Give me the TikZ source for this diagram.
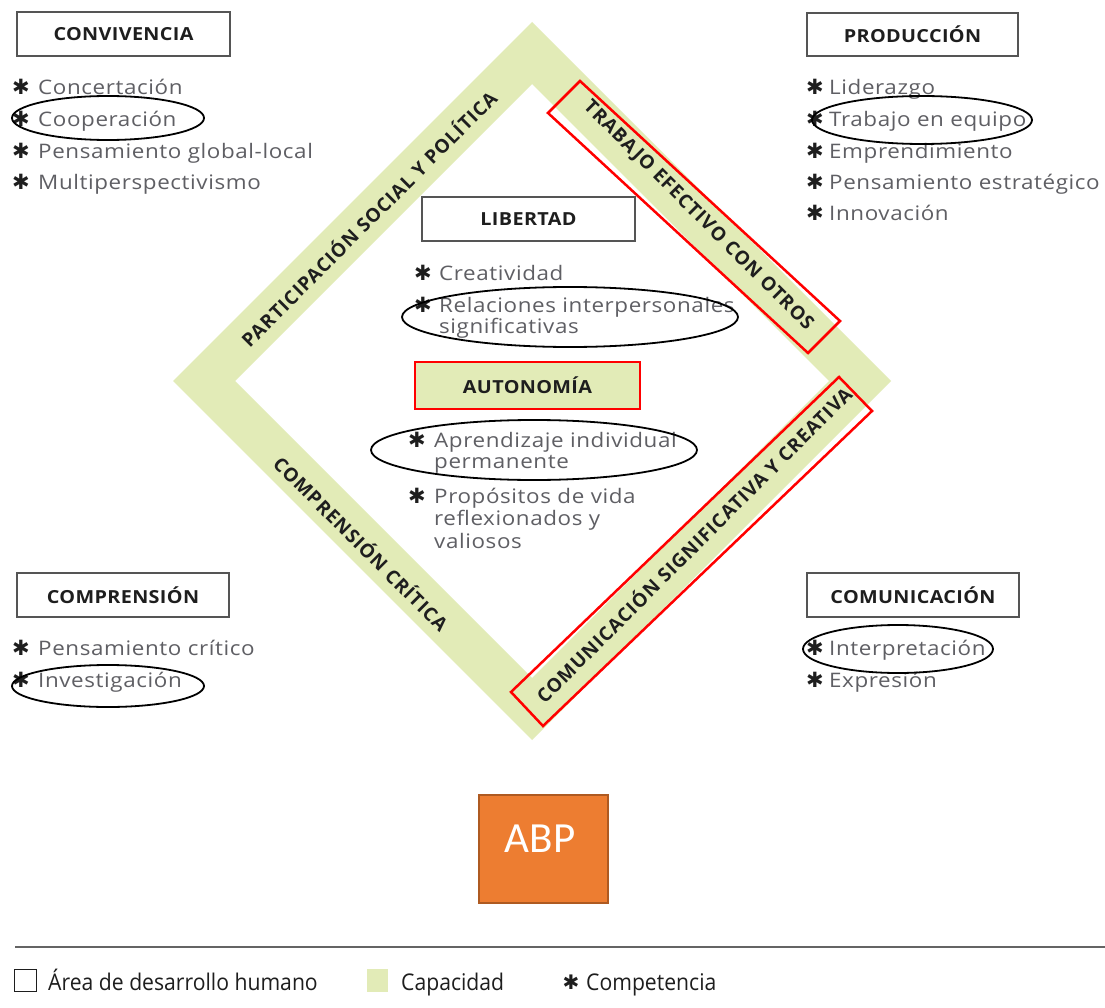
\documentclass[tikz,border=0pt]{standalone}
\usepackage{fontspec}
\setmainfont{Open Sans}
\newfontfamily\symf{DejaVu Sans}
\newfontfamily\abpf{Carlito}
\newfontfamily\bodyf[FakeStretch=1.12, LetterSpace=3]{Open Sans}
\newfontfamily\headf[FakeStretch=1.1, LetterSpace=2]{Open Sans}
\newfontfamily\legf[FakeStretch=0.92]{Open Sans}
\newfontfamily\bandf[LetterSpace=5]{Open Sans}
\usetikzlibrary{shapes.geometric}
\definecolor{band}{RGB}{226,235,183}
\definecolor{bodytxt}{RGB}{95,95,100}
\definecolor{headtxt}{RGB}{30,30,30}
\definecolor{boxline}{RGB}{85,85,85}
\definecolor{abpfill}{RGB}{237,125,49}
\definecolor{abpline}{RGB}{174,90,33}
\definecolor{rule}{RGB}{100,100,100}
\begin{document}
\begin{tikzpicture}[x=1pt,y=-1pt,
 areabox/.style={draw=boxline, line width=2pt, fill=white, inner sep=0pt, font=\headf\bfseries\fontsize{18}{18}\selectfont, text=headtxt},
 item/.style={anchor=base west, inner sep=0pt, font=\bodyf\fontsize{20}{20}\selectfont, text=bodytxt},
 star/.style={anchor=base, inner sep=0pt, font=\symf\fontsize{21}{21}\selectfont, text=headtxt},
 ring/.style={draw=black, line width=1.8pt},
 redframe/.style={draw=red, line width=2.5pt},
 bandtext/.style={font=\bandf\bfseries\fontsize{19}{19}\selectfont, text=headtxt, inner sep=0pt},
 legtxt/.style={anchor=base west, inner sep=0pt, font=\legf\fontsize{23}{23}\selectfont, text=headtxt}
]
\useasboundingbox[fill=white] (0,0) rectangle (1105,1008);

% diamond band
\fill[band, even odd rule] (532,22) -- (891,381) -- (532,740) -- (173,381) -- cycle
  (532,84) -- (829,381) -- (532,678) -- (235,381) -- cycle;

% band labels
\node[bandtext, rotate=45] (bpart) at (368,218) {PARTICIPACIÓN SOCIAL Y POLÍTICA};
\node[bandtext, rotate=-45] (btrab) at (698,216) {TRABAJO EFECTIVO CON OTROS};
\node[bandtext, rotate=-45] (bcomp) at (362,543) {COMPRENSIÓN CRÍTICA};
\node[bandtext, rotate=45] (bcomu) at (693,544) {COMUNICACIÓN SIGNIFICATIVA Y CREATIVA};

% red frames on bands
\draw[redframe] (548,113) -- (580,81) -- (840,321) -- (808,353) -- cycle;
\draw[redframe] (511,692) -- (839,377) -- (872,411) -- (543,726) -- cycle;

% area boxes
\node[areabox, minimum width=213pt, minimum height=44pt] (conv) at (123.5,34) {CONVIVENCIA};
\node[areabox, minimum width=211pt, minimum height=43pt] (prod) at (912.5,34.5) {PRODUCCIÓN};
\node[areabox, minimum width=213pt, minimum height=44pt] (lib) at (528.5,219) {LIBERTAD};
\node[areabox, minimum width=212pt, minimum height=44pt] (compr) at (123,595) {COMPRENSIÓN};
\node[areabox, minimum width=212pt, minimum height=44pt] (comun) at (913,595) {COMUNICACIÓN};
\node[areabox, fill=band, draw=red, line width=2.5pt, minimum width=225pt, minimum height=47pt] (auto) at (527.5,385.5) {AUTONOMÍA};

% convivencia items
\node[star] (s1) at (21,95) {✱};   \node[item] (t1) at (38,95) {Concertación};
\node[star] (s2) at (21,127) {✱};  \node[item] (t2) at (38,127) {Cooperación};
\node[star] (s3) at (21,159) {✱};  \node[item] (t3) at (38,159) {Pensamiento global-local};
\node[star] (s4) at (21,190) {✱};  \node[item] (t4) at (38,190) {Multiperspectivismo};

% produccion items
\node[star] (p1) at (815,95) {✱};  \node[item] (q1) at (829,95) {Liderazgo};
\node[star] (p2) at (815,127) {✱}; \node[item] (q2) at (829,127) {Trabajo en equipo};
\node[star] (p3) at (815,159) {✱}; \node[item] (q3) at (829,159) {Emprendimiento};
\node[star] (p4) at (815,190) {✱}; \node[item] (q4) at (829,190) {Pensamiento estratégico};
\node[star] (p5) at (815,221) {✱}; \node[item] (q5) at (829,221) {Innovación};

% comprension items
\node[star] (c1) at (21,655) {✱};  \node[item] (d1) at (38,655) {Pensamiento crítico};
\node[star] (c2) at (21,687) {✱};  \node[item] (d2) at (38,687) {Investigación};

% comunicacion items
\node[star] (m1) at (815,655) {✱}; \node[item] (n1) at (829,655) {Interpretación};
\node[star] (m2) at (815,687) {✱}; \node[item] (n2) at (829,687) {Expresión};

% libertad items
\node[star] (l1) at (423,280) {✱}; \node[item] (k1) at (439,280) {Creatividad};
\node[star] (l2) at (423,312) {✱}; \node[item] (k2) at (439,312) {Relaciones interpersonales};
\node[item] (k3) at (439,333.5) {significativas};

% autonomia items
\node[star] (a1) at (417,447) {✱}; \node[item] (b1) at (434,447) {Aprendizaje individual};
\node[item] (b2) at (434,468.5) {permanente};
\node[star] (a2) at (417,503) {✱}; \node[item] (b3) at (434,503) {Propósitos de vida};
\node[item] (b4) at (434,525) {reflexionados y};
\node[item] (b5) at (434,548) {valiosos};

% highlight ellipses
\draw[ring] (108,118) ellipse [x radius=96pt, y radius=22pt];
\draw[ring] (922,120) ellipse [x radius=110pt, y radius=24pt];
\draw[ring] (570,317) ellipse [x radius=168pt, y radius=30pt];
\draw[ring] (534,450) ellipse [x radius=163pt, y radius=30pt];
\draw[ring] (108,686) ellipse [x radius=96pt, y radius=21pt];
\draw[ring] (898,649) ellipse [x radius=95pt, y radius=24pt];

% ABP
\node[fill=abpfill, draw=abpline, line width=1.5pt, minimum width=129pt, minimum height=108pt, inner sep=0pt] (abp) at (543.5,849) {};
\node[font=\abpf\fontsize{43}{43}\selectfont, text=white, inner sep=0pt] (abpt) at (540,839) {ABP};

% legend
\coordinate (r1) at (15,947);
\coordinate (r2) at (1105,947);
\draw[rule, line width=2.5pt] (r1) -- (r2);
\node[draw=headtxt, line width=1.5pt, minimum width=22pt, minimum height=22pt, inner sep=0pt] (lg1) at (25.5,980.5) {};
\node[legtxt] (lt1) at (48,990) {Área de desarrollo humano};
\node[fill=band, minimum width=21pt, minimum height=23pt, inner sep=0pt] (lg2) at (377.5,980.5) {};
\node[legtxt] (lt2) at (401,990) {Capacidad};
\node[star, font=\symf\fontsize{20}{20}\selectfont] (lg3) at (571,989) {✱};
\node[legtxt] (lt3) at (586,990) {Competencia};
\end{tikzpicture}
\end{document}
